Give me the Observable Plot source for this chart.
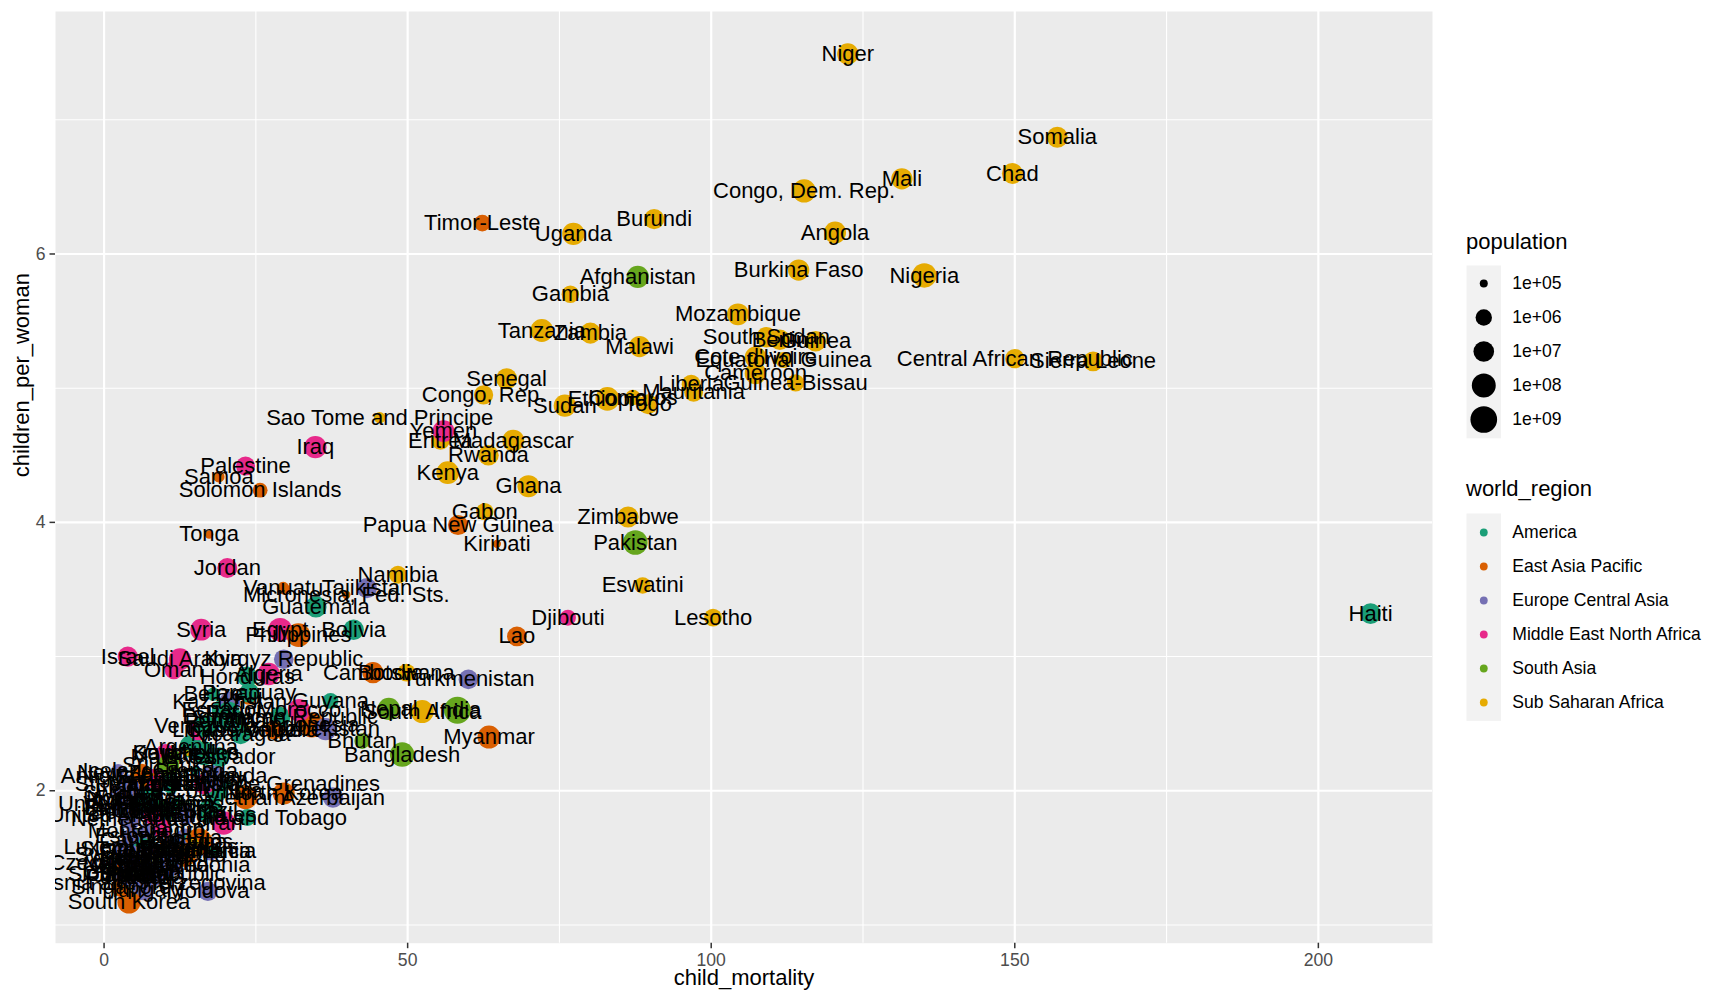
<!DOCTYPE html>
<html>
<head>
<meta charset="utf-8">
<script src="https://cdn.jsdelivr.net/npm/d3@7"></script>
<script src="https://cdn.jsdelivr.net/npm/@observablehq/plot@0.6"></script>
<style>
  html, body { margin: 0; padding: 0; background: white; overflow: hidden; }
  #wrap { position: relative; width: 1728px; height: 1008px; font-family: "Liberation Sans", Arial, sans-serif; }
  #wrap > div { position: absolute; }
  .ltitle { font-size: 22px; line-height: 22px; color: black; white-space: nowrap; }
</style>
</head>
<body>
<div id="wrap">
  <div id="main" style="left:0;top:0"></div>
  <div class="ltitle" style="left:1466px;top:231px">population</div>
  <div id="leg1" style="left:1466px;top:265px"></div>
  <div class="ltitle" style="left:1466px;top:478px">world_region</div>
  <div id="leg2" style="left:1466px;top:512.7px"></div>
</div>
<script>
// ---- data (gapminder 2010) ----
const regions = ["America", "East Asia Pacific", "Europe Central Asia", "Middle East North Africa", "South Asia", "Sub Saharan Africa"];
const regionColors = ["#1B9E77", "#D95F02", "#7570B3", "#E7298A", "#66A61E", "#E6AB02"];

const countries = [
 // America
 "Antigua and Barbuda","Argentina","Bahamas","Barbados","Belize","Bolivia","Brazil","Canada","Chile","Colombia","Costa Rica","Cuba","Dominican Republic","Ecuador","El Salvador","Grenada","Guatemala","Guyana","Haiti","Honduras","Jamaica","Mexico","Nicaragua","Panama","Paraguay","Peru","St. Lucia","St. Vincent and the Grenadines","Suriname","Trinidad and Tobago","United States","Uruguay","Venezuela",
 // East Asia Pacific
 "Australia","Brunei","Cambodia","China","Fiji","Indonesia","Japan","Kiribati","Lao","Malaysia","Micronesia, Fed. Sts.","Mongolia","Myanmar","New Zealand","North Korea","Papua New Guinea","Philippines","Samoa","Singapore","Solomon Islands","South Korea","Thailand","Timor-Leste","Tonga","Vanuatu","Vietnam",
 // Europe Central Asia
 "Albania","Armenia","Austria","Azerbaijan","Belarus","Belgium","Bosnia and Herzegovina","Bulgaria","Croatia","Cyprus","Czech Republic","Denmark","Estonia","Finland","France","Georgia","Germany","Greece","Hungary","Iceland","Ireland","Italy","Kazakhstan","Kyrgyz Republic","Latvia","Lithuania","Luxembourg","North Macedonia","Malta","Moldova","Montenegro","Netherlands","Norway","Poland","Portugal","Romania","Russia","Serbia","Slovak Republic","Slovenia","Spain","Sweden","Switzerland","Tajikistan","Turkey","Turkmenistan","Ukraine","United Kingdom","Uzbekistan",
 // Middle East North Africa
 "Algeria","Bahrain","Djibouti","Egypt","Iran","Iraq","Israel","Jordan","Kuwait","Lebanon","Libya","Morocco","Oman","Palestine","Qatar","Saudi Arabia","Syria","Tunisia","United Arab Emirates","Yemen",
 // South Asia
 "Afghanistan","Bangladesh","Bhutan","India","Maldives","Nepal","Pakistan","Sri Lanka",
 // Sub Saharan Africa
 "Angola","Benin","Botswana","Burkina Faso","Burundi","Cameroon","Cape Verde","Central African Republic","Chad","Comoros","Congo, Dem. Rep.","Congo, Rep.","Cote d'Ivoire","Equatorial Guinea","Eritrea","Eswatini","Ethiopia","Gabon","Gambia","Ghana","Guinea","Guinea-Bissau","Kenya","Lesotho","Liberia","Madagascar","Malawi","Mali","Mauritania","Mauritius","Mozambique","Namibia","Niger","Nigeria","Rwanda","Sao Tome and Principe","Senegal","Seychelles","Sierra Leone","Somalia","South Africa","South Sudan","Sudan","Tanzania","Togo","Uganda","Zambia","Zimbabwe"
];

// number of countries per region, in the order of `regions`
const regionCounts = [33, 26, 49, 20, 8, 48];

const childMortality = [
 9.9,14.3,12.0,13.5,18.0,41.1,17.5,5.6,8.7,18.5,10.2,5.7,29.0,19.5,19.0,15.0,34.9,37.3,208.6,23.6,17.0,16.5,22.5,20.0,23.9,20.5,18.0,20.3,22.1,23.6,7.4,11.0,16.7,
 4.9,7.5,44.3,15.6,23.8,34.2,3.2,64.7,68.0,7.8,39.9,28.0,63.4,6.2,29.6,58.3,32.0,18.9,2.8,25.7,4.1,13.2,62.3,17.3,29.5,23.3,
 13.4,17.5,4.2,37.7,5.5,4.3,6.9,12.5,5.3,3.5,3.7,4.0,4.5,2.8,4.1,13.5,4.0,4.0,6.5,2.3,4.1,3.8,20.7,29.6,8.5,6.5,3.4,10.3,6.5,17.1,7.0,4.3,3.2,6.0,3.6,12.5,11.5,7.5,7.0,3.0,4.1,3.0,4.5,43.3,18.0,60.0,11.0,5.3,36.5,
 27.1,8.0,76.4,29.0,19.7,34.8,3.9,20.3,10.1,9.5,15.5,32.1,11.5,23.3,8.5,12.5,16.0,16.5,8.0,55.9,
 87.9,49.1,42.5,58.2,11.5,46.9,87.5,10.6,
 120.4,111.3,49.8,114.4,90.6,107.3,23.0,150.0,149.6,87.1,115.3,62.5,107.3,111.9,55.4,88.7,82.9,62.7,76.8,69.9,117.2,113.9,56.6,100.3,96.7,67.4,88.2,131.4,97.1,14.7,104.4,48.4,122.5,135.1,63.3,45.4,66.3,13.5,162.9,157.0,52.4,109.1,75.9,72.1,89.6,77.3,80.1,86.3
];

const childrenPerWoman = [
 2.11,2.33,1.90,1.62,2.72,3.20,1.85,1.63,1.84,2.00,1.85,1.55,2.55,2.60,2.25,2.15,3.37,2.67,3.32,2.85,2.08,2.28,2.42,2.52,2.73,2.58,1.55,2.05,2.54,1.80,1.93,2.05,2.48,
 1.92,1.95,2.88,1.62,2.70,2.49,1.37,3.84,3.15,2.05,3.46,2.45,2.40,2.13,1.98,3.98,3.16,4.34,1.28,4.24,1.17,1.52,6.23,3.91,3.51,1.95,
 1.65,1.55,1.44,1.95,1.49,1.84,1.31,1.57,1.55,1.44,1.46,1.87,1.66,1.87,2.00,1.82,1.39,1.48,1.26,2.15,2.05,1.46,2.66,2.98,1.36,1.50,1.58,1.45,1.38,1.25,1.70,1.79,1.95,1.38,1.36,1.55,1.57,1.40,1.38,1.57,1.37,1.98,1.52,3.51,2.10,2.83,1.45,1.90,2.46,
 2.87,2.10,3.29,3.20,1.76,4.56,3.00,3.66,2.28,1.72,2.45,2.60,2.90,4.42,2.05,2.98,3.20,2.05,1.82,4.68,
 5.83,2.27,2.37,2.60,2.25,2.61,3.85,2.19,
 6.16,5.36,2.88,5.88,6.26,5.11,2.45,5.22,6.60,4.93,6.47,4.95,5.23,5.21,4.61,3.53,4.92,4.08,5.70,4.27,5.35,5.04,4.37,3.29,5.03,4.61,5.31,6.56,4.97,1.58,5.55,3.61,7.49,5.84,4.50,4.78,5.07,2.28,5.20,6.87,2.59,5.38,4.87,5.43,4.88,6.15,5.41,4.04
];

// population, millions
const populationM = [
 0.09,41.0,0.36,0.28,0.32,10.0,196,34.0,17.1,45.9,4.5,11.3,9.9,15.0,6.2,0.105,14.6,0.75,10.0,8.3,2.8,117,5.8,3.6,6.2,29.3,0.17,0.11,0.53,1.33,309,3.4,29.0,
 22.0,0.39,14.3,1340,0.86,242,128,0.103,6.2,28.0,0.104,2.7,50.0,4.4,24.5,7.3,93.7,0.186,5.1,0.53,49.5,67.0,1.1,0.104,0.24,88.0,
 2.9,2.9,8.4,9.1,9.5,10.9,3.8,7.4,4.3,1.1,10.5,5.5,1.33,5.4,63.0,4.0,81.0,11.0,10.0,0.32,4.6,59.0,16.3,5.4,2.1,3.1,0.5,2.1,0.41,4.1,0.62,16.6,4.9,38.0,10.6,20.0,143,7.3,5.4,2.0,46.6,9.4,7.8,7.6,72.0,5.1,45.9,63.0,28.5,
 36.0,1.24,0.85,84.0,74.0,30.0,7.4,6.9,3.0,4.3,6.2,32.0,3.0,4.0,1.8,27.0,21.0,10.6,8.3,23.0,
 29.0,152,0.7,1230,0.37,27.0,179,20.2,
 23.4,9.2,2.0,15.6,8.8,20.3,0.49,4.4,11.9,0.69,64.5,4.4,20.4,0.94,3.2,1.1,87.6,1.6,1.7,24.8,10.2,1.6,41.4,2.0,3.9,21.2,14.8,15.0,3.6,1.25,23.5,2.1,16.5,158.5,10.2,0.18,12.7,0.09,6.4,12.0,51.2,9.5,34.5,45.0,6.4,32.4,13.6,14.0
];

const xMajor = [0, 50, 100, 150, 200];
const xMinor = [25, 75, 125, 175];
const yMajor = [2, 4, 6];
const yMinor = [1, 3, 5, 7];
const popBreaks = [1e5, 1e6, 1e7, 1e8, 1e9];
const popBreakLabels = ["1e+05", "1e+06", "1e+07", "1e+08", "1e+09"];

// ---- build table ----
const regionOf = [];
regionCounts.forEach((n, i) => { for (let k = 0; k < n; k++) regionOf.push(regions[i]); });
const data = countries.map((c, i) => ({
  country: c,
  world_region: regionOf[i],
  child_mortality: childMortality[i],
  children_per_woman: childrenPerWoman[i],
  population: populationM[i] * 1e6
})).sort((a, b) => d3.ascending(a.country, b.country));

// size: ggplot area scale on log10(population)
const logBase = 4.95;
const rScale = {type: "sqrt", domain: [0, 4.18], range: [2.84, 13.51]};
const sizeValue = p => Math.log10(p) - logBase;

const font = '"Liberation Sans", Arial, sans-serif';
const intFormat = d => String(d);

const main = Plot.plot({
  width: 1728, height: 1008,
  marginLeft: 55, marginRight: 296, marginTop: 11, marginBottom: 65.3,
  x: {domain: [-8.0, 218.8]},
  y: {domain: [0.864, 7.807]},
  r: rScale,
  color: {domain: regions, range: regionColors},
  style: {fontFamily: font, background: "white", overflow: "visible"},
  marks: [
    Plot.frame({fill: "#EBEBEB", stroke: "none"}),
    Plot.gridX({ticks: xMinor, stroke: "white", strokeOpacity: 1, strokeWidth: 1.1}),
    Plot.gridY({ticks: yMinor, stroke: "white", strokeOpacity: 1, strokeWidth: 1.1}),
    Plot.gridX({ticks: xMajor, stroke: "white", strokeOpacity: 1, strokeWidth: 2.2}),
    Plot.gridY({ticks: yMajor, stroke: "white", strokeOpacity: 1, strokeWidth: 2.2}),
    Plot.axisX({ticks: xMajor, tickFormat: intFormat, tickSize: 5.5, tickPadding: 4.4, fontSize: 17.6, color: "#4D4D4D", stroke: "#333333", strokeWidth: 1.5, label: null}),
    Plot.axisY({ticks: yMajor, tickFormat: intFormat, tickSize: 5.5, tickPadding: 4.4, fontSize: 17.6, color: "#4D4D4D", stroke: "#333333", strokeWidth: 1.5, label: null}),
    Plot.dot(data, {x: "child_mortality", y: "children_per_woman", r: d => sizeValue(d.population), fill: "world_region", stroke: "none", sort: null, clip: true}),
    Plot.text(data, {x: "child_mortality", y: "children_per_woman", text: "country", fontSize: 22, fill: "black", clip: true}),
    Plot.text(["child_mortality"], {text: d => d, frameAnchor: "bottom", dy: 41.3, fontSize: 22, fill: "black"}),
    Plot.text(["children_per_woman"], {text: d => d, frameAnchor: "left", dx: -34, rotate: -90, fontSize: 22, fill: "black"})
  ]
});
document.getElementById("main").appendChild(main);

const key = 34.56;
const legW = 262;

const popRows = popBreaks.map((p, i) => ({population: p, label: popBreakLabels[i]}));
const leg1 = Plot.plot({
  width: legW, height: key * popRows.length,
  marginLeft: 0, marginRight: legW - key, marginTop: 0, marginBottom: 0,
  y: {type: "band", domain: popBreakLabels, padding: 0, axis: null},
  r: rScale,
  style: {fontFamily: font, background: "transparent", overflow: "visible"},
  marks: [
    Plot.frame({fill: "#F2F2F2", stroke: "none"}),
    Plot.dot(popRows, {y: "label", r: d => sizeValue(d.population), fill: "black", stroke: "none"}),
    Plot.text(popRows, {y: "label", text: "label", textAnchor: "start", dx: key / 2 + 11.2, fontSize: 17.6, fill: "black"})
  ]
});
document.getElementById("leg1").appendChild(leg1);

const leg2 = Plot.plot({
  width: legW, height: key * regions.length,
  marginLeft: 0, marginRight: legW - key, marginTop: 0, marginBottom: 0,
  y: {type: "band", domain: regions, padding: 0, axis: null},
  color: {domain: regions, range: regionColors},
  style: {fontFamily: font, background: "transparent", overflow: "visible"},
  marks: [
    Plot.frame({fill: "#F2F2F2", stroke: "none"}),
    Plot.dot(regions, {y: d => d, r: 3.9, fill: d => d, stroke: "none"}),
    Plot.text(regions, {y: d => d, text: d => d, textAnchor: "start", dx: key / 2 + 11.2, fontSize: 17.6, fill: "black"})
  ]
});
document.getElementById("leg2").appendChild(leg2);
</script>
</body>
</html>
